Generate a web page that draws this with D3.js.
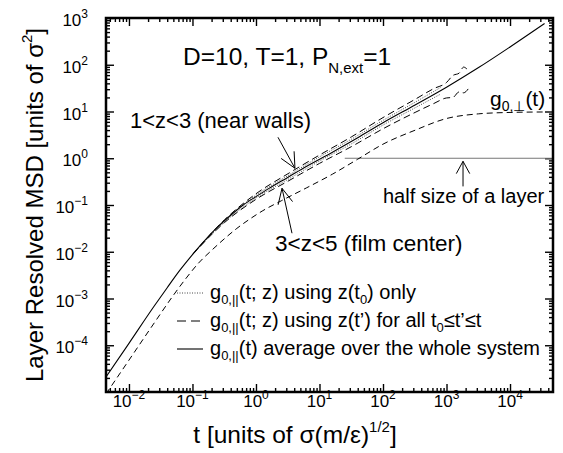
<!DOCTYPE html>
<html>
<head>
<meta charset="utf-8">
<script src="https://cdn.jsdelivr.net/npm/d3@7"></script>
<style>
  body { margin: 0; background: #fff; }
  text { font-family: "Liberation Sans", Arial, Helvetica, sans-serif; fill: #000; }
</style>
</head>
<body>
<svg id="chart" width="563" height="453"></svg>
<script>
// ---- axis ticks ----
const xMajor = [1e-2, 1e-1, 1e0, 1e1, 1e2, 1e3, 1e4];
const xMajorExp = ["\u22122", "\u22121", "0", "1", "2", "3", "4"];
const yMajor = [1e-4, 1e-3, 1e-2, 1e-1, 1e0, 1e1, 1e2, 1e3];
const yMajorExp = ["\u22124", "\u22123", "\u22122", "\u22121", "0", "1", "2", "3"];

// ---- whole-system parallel MSD g_0,||(t) ----
const avgT = [0.00435, 0.01, 0.025, 0.04, 0.063, 0.1, 0.158, 0.25, 0.4, 0.63, 1, 1.58, 3.16, 6.3, 16, 40, 100, 320, 1000, 3200, 10000, 35000];
const avgG = [2.1e-5, 1.1e-4, 6.9e-4, 1.70e-3, 3.98e-3, 8.71e-3, 0.0178, 0.0339, 0.0603, 0.100, 0.151, 0.224, 0.389, 0.676, 1.35, 2.75, 5.75, 13.8, 33.1, 87, 240, 760];

// ---- perpendicular MSD g_0,perp(t) ----
const perpT = [0.00435, 0.01, 0.025, 0.05, 0.08, 0.125, 0.2, 0.32, 0.5, 0.8, 1.25, 2.5, 6.3, 16, 40, 100, 320, 1000, 3200, 10000, 35000];
const perpG = [9.1e-6, 4.8e-5, 3.0e-4, 1.17e-3, 2.75e-3, 5.75e-3, 0.0107, 0.0191, 0.0316, 0.0501, 0.0741, 0.123, 0.234, 0.457, 0.955, 2.0, 3.98, 7.08, 8.91, 9.55, 9.77];

// ---- layer 1<z<3 (near walls) ----
const wallsDashT = [0.1, 0.32, 1, 3.2, 10, 32, 100, 320, 630, 1000, 1260, 1580, 1860, 2090];
const wallsDashG = [8.71e-3, 0.0484, 0.174, 0.468, 1.17, 2.88, 7.41, 18.2, 30.9, 41.7, 58.9, 66.1, 89.1, 81.3];
const wallsDotT = [0.1, 0.32, 1, 3.2, 10, 32, 100, 320, 800];
const wallsDotG = [8.71e-3, 0.0473, 0.162, 0.427, 1.07, 2.57, 6.46, 15.8, 32.4];

// ---- layer 3<z<5 (film center) ----
const centerDashT = [0.1, 0.32, 1, 3.2, 10, 32, 100, 320, 630, 1000, 1260, 1580, 1860, 2240];
const centerDashG = [8.71e-3, 0.0422, 0.132, 0.324, 0.776, 1.78, 4.27, 9.55, 14.8, 19.5, 20.0, 26.3, 25.1, 31.6];
const centerDotT = [0.1, 0.32, 1, 3.2, 10, 32, 100, 320, 800];
const centerDotG = [8.71e-3, 0.0432, 0.141, 0.355, 0.871, 2.04, 5.13, 12.0, 23.4];

// half size of a layer
const halfLayerG = 1;
const halfLayerFromT = 25;

// ---- layout ----
const M = { l: 106, t: 18, r: 553, b: 392 };
const svg = d3.select("#chart");

const x = d3.scaleLog().domain([0.00435, 47500]).range([M.l, M.r]);
const y = d3.scaleLog().domain([1e-5, 1e3]).range([M.b, M.t]);

const zip = (a, b) => a.map((v, i) => [v, b[i]]);

svg.append("clipPath").attr("id", "plotClip")
  .append("rect").attr("x", M.l).attr("y", M.t).attr("width", M.r - M.l).attr("height", M.b - M.t);

// rich text helper: parts of [string, "n" | "sub" | "sup"]
function rich(sel, parts, base, small, subShift, supShift) {
  let cur = 0;
  parts.forEach(([s, kind]) => {
    const target = kind === "sub" ? subShift : kind === "sup" ? -supShift : 0;
    sel.append("tspan")
      .attr("dy", target - cur)
      .attr("font-size", kind === "n" ? base : small)
      .text(s);
    cur = target;
  });
}

// ---- ticks ----
const isMajor = (v, list) => list.some(m => Math.abs(Math.log10(v) - Math.log10(m)) < 1e-6);
const minorX = x.ticks().filter(v => !isMajor(v, xMajor));
const minorY = y.ticks().filter(v => !isMajor(v, yMajor) && !isMajor(v, [1e-5]));

function axisGroup(axisFn, scale, values, size, tx, ty) {
  const g = svg.append("g").attr("transform", `translate(${tx},${ty})`)
    .call(axisFn(scale).tickValues(values).tickSizeInner(size).tickSizeOuter(0).tickFormat(""));
  g.select(".domain").remove();
  g.selectAll(".tick line").attr("stroke", "#000").attr("stroke-width", 1.4);
  return g;
}
axisGroup(d3.axisBottom, x, xMajor, -8, 0, M.b);
axisGroup(d3.axisBottom, x, minorX, -4, 0, M.b);
axisGroup(d3.axisTop, x, xMajor, -8, 0, M.t);
axisGroup(d3.axisTop, x, minorX, -4, 0, M.t);
axisGroup(d3.axisLeft, y, yMajor, -8, M.l, 0);
axisGroup(d3.axisLeft, y, minorY, -4, M.l, 0);
axisGroup(d3.axisRight, y, yMajor, -8, M.r, 0);
axisGroup(d3.axisRight, y, minorY, -4, M.r, 0);

// tick labels
svg.selectAll(".xlab").data(xMajor).join("text")
  .attr("class", "xlab")
  .attr("x", d => x(d)).attr("y", M.b + 15)
  .attr("text-anchor", "middle")
  .each(function (d, i) {
    rich(d3.select(this), [["10", "n"], [xMajorExp[i], "sup"]], 17, 12, 0, 8);
  });

svg.selectAll(".ylab").data(yMajor).join("text")
  .attr("class", "ylab")
  .attr("x", M.l - 18).attr("y", d => y(d) + 8)
  .attr("text-anchor", "end")
  .each(function (d, i) {
    rich(d3.select(this), [["10", "n"], [yMajorExp[i], "sup"]], 17, 12, 0, 8);
  });

// axis titles
const xt = svg.append("text").attr("x", 295).attr("y", 443).attr("text-anchor", "middle");
rich(xt, [["t [units of \u03c3(m/\u03b5)", "n"], ["1/2", "sup"], ["]", "n"]], 24.5, 15, 0, 11);

const yt = svg.append("text").attr("transform", "translate(43,205) rotate(-90)").attr("text-anchor", "middle");
rich(yt, [["Layer Resolved MSD [units of \u03c3", "n"], ["2", "sup"], ["]", "n"]], 24, 15, 0, 11);

// ---- curves ----
const plot = svg.append("g").attr("clip-path", "url(#plotClip)");
const line = d3.line().x(d => x(d[0])).y(d => y(d[1])).curve(d3.curveMonotoneX);

// half size of a layer
plot.append("line")
  .attr("x1", x(halfLayerFromT)).attr("x2", M.r)
  .attr("y1", y(halfLayerG)).attr("y2", y(halfLayerG))
  .attr("stroke", "#777").attr("stroke-width", 1);

const series = [
  { t: perpT, g: perpG, dash: "6,4", w: 1, c: "#000" },
  { t: centerDashT, g: centerDashG, dash: "7,4", w: 1, c: "#000" },
  { t: wallsDashT, g: wallsDashG, dash: "7,4", w: 1, c: "#000" },
  { t: centerDotT, g: centerDotG, dash: "1,1.5", w: 0.9, c: "#333" },
  { t: wallsDotT, g: wallsDotG, dash: "1,1.5", w: 0.9, c: "#333" },
  { t: avgT, g: avgG, dash: null, w: 1.1, c: "#000" }
];
plot.selectAll(".curve").data(series).join("path")
  .attr("class", "curve")
  .attr("d", s => line(zip(s.t, s.g)))
  .attr("fill", "none")
  .attr("stroke", s => s.c)
  .attr("stroke-width", s => s.w)
  .attr("stroke-dasharray", s => s.dash);

// frame
svg.append("rect").attr("x", M.l).attr("y", M.t).attr("width", M.r - M.l).attr("height", M.b - M.t)
  .attr("fill", "none").attr("stroke", "#000").attr("stroke-width", 2.5);

// ---- annotations ----
function arrow(tail, tip, len, ang) {
  const x0 = x(tail[0]), y0 = y(tail[1]), x1 = x(tip[0]), y1 = y(tip[1]);
  const a = Math.atan2(y0 - y1, x0 - x1);
  const g = svg.append("g").attr("stroke", "#000").attr("stroke-width", 1).attr("fill", "none");
  g.append("line").attr("x1", x0).attr("y1", y0).attr("x2", x1).attr("y2", y1);
  [-ang, ang].forEach(da => {
    g.append("line").attr("x1", x1).attr("y1", y1)
      .attr("x2", x1 + len * Math.cos(a + da)).attr("y2", y1 + len * Math.sin(a + da));
  });
}
arrow([2.22, 2.81], [4.11, 0.61], 17, 0.45);
arrow([3.69, 0.0249], [2.57, 0.228], 17, 0.45);
arrow([1820, 0.25], [1820, 0.86], 14, 0.5);

const ttl = svg.append("text").attr("x", 183).attr("y", 65);
rich(ttl, [["D=10, T=1, P", "n"], ["N,ext", "sub"], ["=1", "n"]], 24.5, 15, 8, 0);

svg.append("text").attr("x", 130).attr("y", 128).attr("font-size", 22).text("1<z<3 (near walls)");
svg.append("text").attr("x", 275).attr("y", 251).attr("font-size", 22.5).text("3<z<5 (film center)");
svg.append("text").attr("x", 383).attr("y", 203).attr("font-size", 20).text("half size of a layer");

const gp = svg.append("text").attr("x", 490).attr("y", 106);
rich(gp, [["g", "n"], ["0,\u22a5", "sub"], ["(t)", "n"]], 21, 14, 5, 0);

// ---- legend ----
const legend = [
  { dash: "1,1.5", w: 0.9, c: "#333", parts: [["g", "n"], ["0,||", "sub"], ["(t; z) using z(t", "n"], ["0", "sub"], [") only", "n"]] },
  { dash: "9,5", w: 1, c: "#000", parts: [["g", "n"], ["0,||", "sub"], ["(t; z) using z(t\u2019) for all t", "n"], ["0", "sub"], ["\u2264t\u2019\u2264t", "n"]] },
  { dash: null, w: 1.1, c: "#000", parts: [["g", "n"], ["0,||", "sub"], ["(t) average over the whole system", "n"]] }
];
legend.forEach((d, i) => {
  const yy = 293 + i * 28;
  svg.append("line").attr("x1", 177).attr("x2", 203).attr("y1", yy).attr("y2", yy)
    .attr("stroke", d.c).attr("stroke-width", d.w).attr("stroke-dasharray", d.dash);
  const t = svg.append("text").attr("x", 210).attr("y", yy + 6);
  rich(t, d.parts, 20, 13, 5, 0);
});
</script>
</body>
</html>
